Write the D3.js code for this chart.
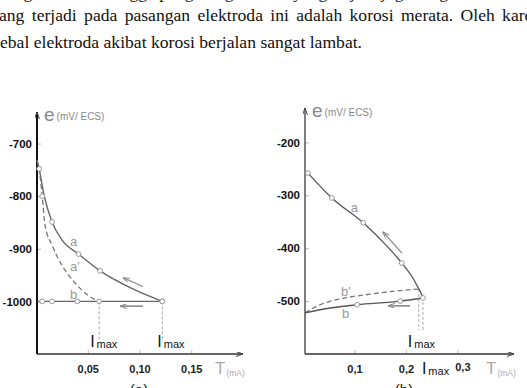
<!DOCTYPE html>
<html>
<head>
<meta charset="utf-8">
<script src="https://cdn.jsdelivr.net/npm/d3@7"></script>
<style>
body { margin: 0; background: #fff; }
svg { display: block; }
.serif { font-family: "Liberation Serif", "DejaVu Serif", serif; }
.sans { font-family: "Liberation Sans", Arial, sans-serif; }
</style>
</head>
<body>
<svg id="fig" width="527" height="388"></svg>
<script>
// page text around the figure
var textLines = [
    "sangat kecil, sehingga pengurangan tebal yang terjadi juga sangat kecil. Jenis korosi yang",
    "ang terjadi pada pasangan elektroda ini adalah korosi merata. Oleh karena",
    "ebal elektroda akibat korosi berjalan sangat lambat."
];

// panel (a)
var aTickE = [-700, -800, -900, -1000];
var aTickI = [0.05, 0.10, 0.15];
var aTickLabels = ["0,05", "0,10", "0,15"];
var aCurveA_I = [0.001, 0.003, 0.008, 0.0155, 0.025, 0.041, 0.062, 0.091, 0.122];
var aCurveA_e = [-732, -748, -800, -849, -883, -910, -942, -974, -1000];
var aCurveA2_I = [0.001, 0.003, 0.006, 0.0087, 0.0155, 0.025, 0.0377, 0.050, 0.061];
var aCurveA2_e = [-732, -748, -800, -855, -893, -931, -965, -988, -1000];
var aLineB_I = [0.001, 0.006, 0.0155, 0.040, 0.061, 0.122];
var aLineB_e = [-1000, -1000, -1000, -1000, -1000, -1000];
var aDotsA = [0.003, 0.0155, 0.041, 0.062, 0.122];
var aDotsA2 = [0.006];
var aImax = [0.061, 0.122];

// panel (b)
var bTickE = [-200, -300, -400, -500];
var bTickI = [0.1, 0.2, 0.3];
var bTickLabels = ["0,1", "0,2", "0,3"];
var bCurveA_I = [0.0097, 0.056, 0.117, 0.165, 0.192, 0.212, 0.225, 0.233];
var bCurveA_e = [-258, -305, -352, -398, -428, -454, -477, -492];
var bCurveB2_I = [0.004, 0.033, 0.082, 0.130, 0.179, 0.227];
var bCurveB2_e = [-522, -507, -494, -487, -481, -477];
var bCurveB_I = [0.004, 0.053, 0.105, 0.189, 0.233];
var bCurveB_e = [-522, -513, -507, -500, -494];
var bDotsA = [0.0097, 0.056, 0.117, 0.192];
var bDotsB = [0.105, 0.189, 0.233];
var bImax = [0.225, 0.233];

var svg = d3.select("#fig");
svg.append("rect").attr("width", 527).attr("height", 388).attr("fill", "#fff");

// text lines (serif, like the report)
var txt = svg.append("g").attr("class", "serif").attr("font-size", 17.6).attr("fill", "#111");
txt.append("text").attr("x", 0).attr("y", -2).text(textLines[0]);
var l2 = txt.append("text").attr("x", -1).attr("y", 21).text(textLines[1]);
txt.append("text").attr("x", 0).attr("y", 48).text(textLines[2]);
// justify the second line so it runs past the right edge like the scan
var gaps = textLines[1].split(" ").length - 1;
var extra = (550 - l2.node().getComputedTextLength()) / gaps;
l2.attr("word-spacing", Math.max(0, extra));

var defs = svg.append("defs");
function arrowMarker(id, color, w, h) {
    defs.append("marker").attr("id", id)
        .attr("viewBox", "0 0 " + w + " " + h)
        .attr("refX", w).attr("refY", h / 2)
        .attr("markerWidth", w).attr("markerHeight", h)
        .attr("markerUnits", "userSpaceOnUse")
        .attr("orient", "auto")
        .append("path").attr("d", "M0,0 L" + w + "," + (h / 2) + " L0," + h)
        .attr("fill", "none").attr("stroke", color).attr("stroke-width", 1);
}
arrowMarker("axhead", "#444", 7, 5);
arrowMarker("arhead", "#888", 7, 5);

function zipPts(xs, ys) {
    return xs.map(function (v, i) { return [v, ys[i]]; });
}

function drawPanel(o) {
    var g = svg.append("g");
    var x = o.x, y = o.y;
    var x0 = x.range()[0] + o.axisOff;

    // y ticks + labels
    var yAx = d3.axisLeft(y).tickValues(o.tickE).tickSizeInner(-4).tickSizeOuter(0).tickPadding(5)
        .tickFormat(function (d) { return d; });
    var ya = g.append("g").attr("transform", "translate(" + x0 + ",0)").call(yAx);
    ya.select(".domain").remove();
    ya.selectAll("line").attr("stroke", "#bbb");
    ya.selectAll("text").attr("class", "sans").attr("font-size", 11.5)
        .attr("font-weight", "bold").attr("fill", "#111");

    // x ticks + labels
    var xAx = d3.axisBottom(x).tickValues(o.tickI).tickSizeInner(-4).tickSizeOuter(0).tickPadding(11)
        .tickFormat(function (d, i) { return o.tickLabels[i]; });
    var xa = g.append("g").attr("transform", "translate(0," + y.range()[0] + ")").call(xAx);
    xa.select(".domain").remove();
    xa.selectAll("line").attr("stroke", "#bbb");
    xa.selectAll("text").attr("class", "sans").attr("font-size", 11)
        .attr("font-weight", "bold").attr("fill", "#222");
    if (o.tickFix) o.tickFix(xa);

    // axis lines
    g.append("line").attr("x1", x0).attr("x2", x0).attr("y1", y.range()[0]).attr("y2", y.range()[1])
        .attr("stroke", o.yAxisColor).attr("stroke-width", o.yAxisWidth).attr("marker-end", "url(#axhead)");
    g.append("line").attr("x1", x0).attr("x2", x.range()[1]).attr("y1", y.range()[0]).attr("y2", y.range()[0])
        .attr("stroke", "#333").attr("stroke-width", 1.5).attr("marker-end", "url(#axhead)");

    // axis titles
    var yt = g.append("text").attr("class", "sans").attr("x", x0 + 7).attr("y", y.range()[1] + 9).attr("fill", "#888");
    yt.append("tspan").attr("font-size", 19).text("e");
    yt.append("tspan").attr("dx", 2).attr("dy", -1).attr("font-size", 10).text("(mV/ ECS)");
    var xt = g.append("text").attr("class", "sans").attr("x", x.range()[1] - 28).attr("y", y.range()[0] + 20).attr("fill", "#aaa");
    xt.append("tspan").attr("font-size", 17).text("T");
    xt.append("tspan").attr("dx", 1).attr("dy", 2).attr("font-size", 8.5).text("(mA)");

    // panel caption, mostly below the page edge
    g.append("text").attr("class", "sans").attr("x", o.capX).attr("y", 395).attr("text-anchor", "middle")
        .attr("font-size", 15).attr("fill", "#222").text(o.caption);

    var line = d3.line().x(function (d) { return x(d[0]); }).y(function (d) { return y(d[1]); })
        .curve(d3.curveMonotoneX);

    // Imax guides
    o.imax.forEach(function (v, i) {
        g.append("line").attr("x1", x(v)).attr("x2", x(v))
            .attr("y1", y(o.imaxTop[i])).attr("y2", y(o.imaxBottom))
            .attr("stroke", "#aaa").attr("stroke-width", 1).attr("stroke-dasharray", "3,2");
    });

    o.curves.forEach(function (c) {
        g.append("path").datum(zipPts(c.I, c.e)).attr("d", line)
            .attr("fill", "none").attr("stroke", c.color).attr("stroke-width", c.w)
            .attr("stroke-dasharray", c.dash || null);
    });

    o.dots.forEach(function (d) {
        g.append("circle").attr("cx", x(d[0])).attr("cy", y(d[1])).attr("r", 2.4)
            .attr("fill", "#fff").attr("stroke", "#999").attr("stroke-width", 1);
    });

    o.arrows.forEach(function (a) {
        g.append("line").attr("x1", x(a[0])).attr("y1", y(a[1])).attr("x2", x(a[2])).attr("y2", y(a[3]))
            .attr("stroke", a[4]).attr("stroke-width", 1.4).attr("marker-end", "url(#arhead)");
    });

    o.notes.forEach(function (n) {
        g.append("text").attr("class", "sans").attr("x", x(n[1])).attr("y", y(n[2])).attr("fill", "#999")
            .attr("font-size", 13).text(n[0]);
    });

    o.imaxLabels.forEach(function (l) {
        var t = g.append("text").attr("class", "sans").attr("x", x(l[0]) + l[1]).attr("y", l[2]).attr("fill", "#111");
        t.append("tspan").attr("font-size", 16).text("I");
        t.append("tspan").attr("dx", 2).attr("dy", 1).attr("font-size", 11).text("max");
    });
}

var xA = d3.scaleLinear().domain([0, 0.2]).range([36, 243]);
var yA = d3.scaleLinear().domain([-1100, -640]).range([354, 112]);
var xB = d3.scaleLinear().domain([0, 0.41]).range([303, 514]);
var yB = d3.scaleLinear().domain([-600, -135]).range([354, 108]);

drawPanel({
    x: xA, y: yA, axisOff: 1, tickE: aTickE, tickI: aTickI, tickLabels: aTickLabels,
    yAxisColor: "#111", yAxisWidth: 2, caption: "(a)", capX: 139,
    imax: aImax, imaxTop: [-1000, -1000], imaxBottom: -1073,
    curves: [
        {I: aCurveA_I, e: aCurveA_e, color: "#666", w: 1.4},
        {I: aCurveA2_I, e: aCurveA2_e, color: "#777", w: 1.3, dash: "5,3"},
        {I: aLineB_I, e: aLineB_e, color: "#666", w: 1.4}
    ],
    dots: aDotsA.map(function (v) { return [v, aCurveA_e[aCurveA_I.indexOf(v)]]; })
        .concat(aDotsA2.map(function (v) { return [v, aCurveA2_e[aCurveA2_I.indexOf(v)]]; }))
        .concat(aLineB_I.slice(1).map(function (v, i) { return [v, aLineB_e[i + 1]]; })),
    arrows: [[0.1034, -972, 0.084, -955, "#999"], [0.1034, -1009, 0.0812, -1009, "#777"]],
    notes: [["a", 0.0329, -895], ["a'", 0.0329, -942], ["b", 0.0329, -995]],
    imaxLabels: [[aImax[0], -9, 347], [aImax[1], -5, 347]]
});

drawPanel({
    x: xB, y: yB, axisOff: 2, tickE: bTickE, tickI: bTickI, tickLabels: bTickLabels,
    yAxisColor: "#555", yAxisWidth: 1.5, caption: "(b)", capX: 404,
    imax: bImax, imaxTop: [-477, -492], imaxBottom: -555,
    curves: [
        {I: bCurveA_I, e: bCurveA_e, color: "#555", w: 1.3},
        {I: bCurveB2_I, e: bCurveB2_e, color: "#777", w: 1.3, dash: "5,3"},
        {I: bCurveB_I, e: bCurveB_e, color: "#555", w: 1.4}
    ],
    dots: bDotsA.map(function (v) { return [v, bCurveA_e[bCurveA_I.indexOf(v)]]; })
        .concat(bDotsB.map(function (v) { return [v, bCurveB_e[bCurveB_I.indexOf(v)]]; })),
    arrows: [[0.192, -409, 0.155, -369, "#999"], [0.208, -509, 0.165, -509, "#777"]],
    notes: [["a", 0.093, -332], ["b'", 0.074, -490], ["b", 0.076, -532]],
    imaxLabels: [[bImax[0], -11, 347], [bImax[1], -1, 374]],
    tickFix: function (xa) {
        xa.selectAll(".tick").filter(function (d) { return d === 0.3; })
            .select("text").attr("x", 5).attr("y", 9);
    }
});
</script>
</body>
</html>
